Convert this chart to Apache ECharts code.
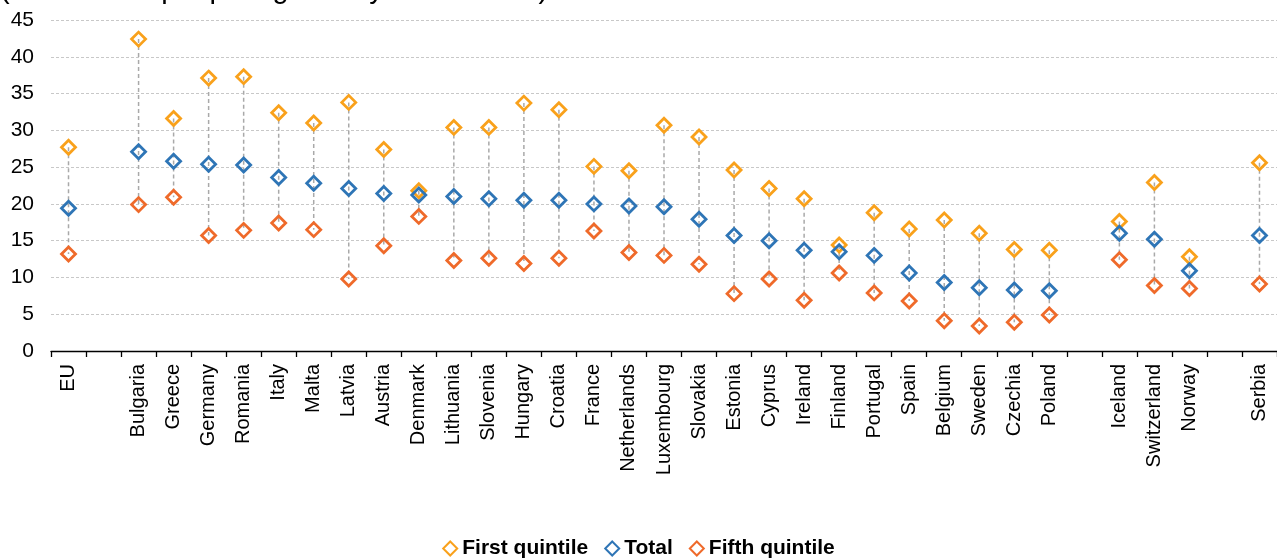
<!DOCTYPE html>
<html>
<head>
<meta charset="utf-8">
<script src="https://cdn.jsdelivr.net/npm/echarts@6/dist/echarts.min.js"></script>
<style>
  html, body { margin: 0; padding: 0; background: #fff; }
  #chart { width: 1277px; height: 559px; }
</style>
</head>
<body>
<div id="chart"></div>
<script>
// Countries, with empty slots separating EU, member states, EFTA and candidates
const categories = ['EU', '', 'Bulgaria', 'Greece', 'Germany', 'Romania', 'Italy', 'Malta', 'Latvia',
  'Austria', 'Denmark', 'Lithuania', 'Slovenia', 'Hungary', 'Croatia', 'France', 'Netherlands',
  'Luxembourg', 'Slovakia', 'Estonia', 'Cyprus', 'Ireland', 'Finland', 'Portugal', 'Spain',
  'Belgium', 'Sweden', 'Czechia', 'Poland', '', 'Iceland', 'Switzerland', 'Norway', '', 'Serbia'];

const firstQuintile = [27.7, null, 42.4, 31.6, 37.1, 37.3, 32.4, 31.0, 33.8, 27.4, 21.8, 30.4, 30.4,
  33.7, 32.8, 25.1, 24.5, 30.7, 29.1, 24.6, 22.1, 20.7, 14.4, 18.8, 16.6, 17.8, 16.0, 13.8, 13.7,
  null, 17.6, 22.9, 12.8, null, 25.6];

const total = [19.4, null, 27.1, 25.8, 25.4, 25.3, 23.6, 22.8, 22.1, 21.4, 21.2, 21.0, 20.7, 20.5,
  20.5, 20.0, 19.7, 19.6, 17.9, 15.7, 15.0, 13.7, 13.5, 13.0, 10.6, 9.3, 8.6, 8.3, 8.2, null,
  16.0, 15.2, 10.9, null, 15.7];

const fifthQuintile = [13.2, null, 19.9, 20.9, 15.7, 16.4, 17.4, 16.5, 9.8, 14.3, 18.3, 12.3, 12.6,
  11.9, 12.6, 16.3, 13.4, 13.0, 11.8, 7.8, 9.8, 6.9, 10.6, 7.9, 6.8, 4.1, 3.4, 3.9, 4.9, null,
  12.4, 8.9, 8.5, null, 9.1];

const yTicks = { min: 0, max: 45, interval: 5 };

const FONT = '"Liberation Sans", Arial, sans-serif';
const COLORS = { first: '#F9A11B', total: '#2E75B6', fifth: '#EF6A2A' };

// Range connector per country: from the lowest to the highest of the three values
const ranges = categories.map((c, i) => {
  const vals = [firstQuintile[i], total[i], fifthQuintile[i]].filter(v => v != null);
  if (!vals.length) return [i, null, null];
  return [i, Math.min(...vals), Math.max(...vals)];
});

const chart = echarts.init(document.getElementById('chart'), null, { renderer: 'canvas' });

function diamondSeries(name, data, color) {
  return {
    name: name,
    type: 'scatter',
    data: data,
    symbol: 'diamond',
    symbolSize: 14,
    z: 5,
    itemStyle: { color: 'rgba(255,255,255,0)', borderColor: color, borderWidth: 2.8, opacity: 1 },
    emphasis: { disabled: true }
  };
}

chart.setOption({
  animation: false,
  textStyle: { fontFamily: FONT },
  graphic: [{
    type: 'text',
    left: 0,
    top: -25,
    style: {
      text: '(% of all the people aged 16 years or over)',
      font: '29px ' + FONT,
      fill: '#000'
    }
  }],
  grid: { left: 51, right: -4, top: 20, bottom: 208, containLabel: false },
  legend: {
    bottom: -5,
    left: 'center',
    itemWidth: 14,
    itemHeight: 14,
    itemGap: 16,
    textStyle: { fontFamily: FONT, fontSize: 21, fontWeight: 'bold', color: '#000' },
    data: [
      { name: 'First quintile', icon: 'diamond' },
      { name: 'Total', icon: 'diamond' },
      { name: 'Fifth quintile', icon: 'diamond' }
    ]
  },
  xAxis: {
    type: 'category',
    data: categories,
    boundaryGap: true,
    axisLine: { show: true, lineStyle: { color: '#000', width: 1.3 } },
    axisTick: { show: true, alignWithLabel: false, interval: 0, length: 6, lineStyle: { color: '#000', width: 1.3 } },
    axisLabel: { interval: 0, rotate: 90, fontSize: 20, color: '#000', fontFamily: FONT, margin: 13 },
    splitLine: { show: false }
  },
  yAxis: {
    type: 'value',
    min: yTicks.min,
    max: yTicks.max,
    interval: yTicks.interval,
    axisLine: { show: false },
    axisTick: { show: false },
    axisLabel: { fontSize: 21, color: '#000', fontFamily: FONT, margin: 17 },
    splitLine: { show: true, lineStyle: { color: '#C8C8C8', type: [3, 2], width: 1 } }
  },
  series: [
    {
      name: 'range',
      type: 'custom',
      z: 2,
      silent: true,
      data: ranges,
      encode: { x: 0, y: [1, 2] },
      renderItem: function (params, api) {
        const lo = api.value(1), hi = api.value(2);
        if (lo == null || hi == null || isNaN(lo) || isNaN(hi)) return null;
        const p1 = api.coord([api.value(0), hi]);
        const p2 = api.coord([api.value(0), lo]);
        return {
          type: 'line',
          shape: { x1: p1[0], y1: p1[1], x2: p2[0], y2: p2[1] },
          style: { stroke: '#A9A9A9', lineWidth: 1.5, lineDash: [4, 3] }
        };
      }
    },
    diamondSeries('First quintile', firstQuintile, COLORS.first),
    diamondSeries('Total', total, COLORS.total),
    diamondSeries('Fifth quintile', fifthQuintile, COLORS.fifth)
  ]
});
</script>
</body>
</html>
